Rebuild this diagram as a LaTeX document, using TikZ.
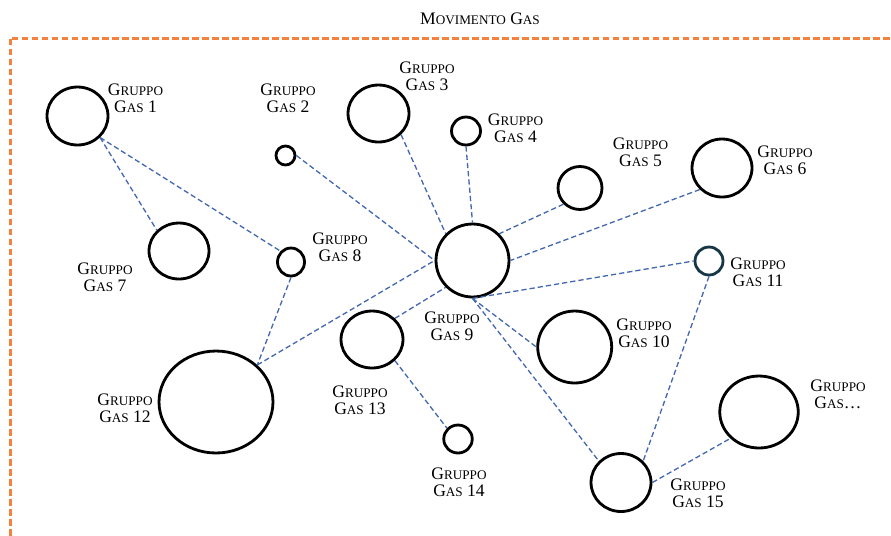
\documentclass[tikz,border=0pt]{standalone}
\usepackage{fontspec}
\setmainfont{Liberation Serif}
\usetikzlibrary{shapes.geometric}
\definecolor{linkblue}{RGB}{68,104,176}
\definecolor{frameorange}{RGB}{243,130,62}
\definecolor{darkteal}{RGB}{23,55,70}
% fake small caps: first letter full size, rest smaller
\newcommand{\fsc}[2]{#1{\fontsize{7.5}{9}\selectfont #2}}
\newcommand{\gruppo}[1]{\fsc{G}{RUPPO}\\\fsc{G}{AS}~#1}
\tikzset{
  % cerchio di un gruppo
  gas/.style={ellipse, draw, line width=1.6pt, inner sep=0pt},
  % etichetta
  lab/.style={align=center, inner sep=0pt, font=\fontsize{10}{9.8}\selectfont},
  % collegamento tratteggiato
  link/.style={draw=linkblue, line width=0.75pt, dash pattern=on 3pt off 1.7pt},
  % cornice arancione
  boxframe/.style={draw=frameorange, line width=2pt, dash pattern=on 3.8pt off 1.9pt},
}

\begin{document}
\begin{tikzpicture}[x=0.02cm, y=-0.02cm]
    \clip (0,0) rectangle (891,535);

    % Frame
    \draw[boxframe] (10.5,38.5) rectangle (905,560);
    \node[lab] (title) at (480,19) {\fsc{M}{OVIMENTO} \fsc{G}{AS}};

    % Groups
    \foreach \n/\x/\y/\w/\h in {1/77.5/116/1.22/1.16, 2/285.5/155.5/0.38/0.38,
        3/378.5/113.5/1.22/1.14, 4/466/131/0.58/0.56, 5/580/188/0.88/0.86,
        6/722/168/1.20/1.16, 7/179/251/1.20/1.12, 8/291/262/0.54/0.56,
        9/472.5/260.5/1.46/1.46, 10/574.7/347/1.48/1.44, 12/216/402/2.28/2.04,
        13/372/339.5/1.24/1.14, 14/458/439/0.57/0.56, 15/621/482.5/1.20/1.16} {
        \node[gas, minimum width=\w cm, minimum height=\h cm] (g\n) at (\x,\y) {};
    }
    \node[gas, draw=darkteal, minimum size=0.56cm] (g11) at (709,261) {};
    \node[gas, minimum width=1.57cm, minimum height=1.44cm] (gx) at (759,412) {};

    % Labels
    \foreach \n/\x/\y in {1/135.5/98, 2/288/98, 3/427/76, 4/515.5/128, 5/640.5/152,
        6/785/160, 7/105/277, 8/340/247, 9/452/326, 10/644/333, 11/758/272,
        12/125/408, 13/360/400, 14/459/482, 15/698/493} {
        \node[lab] (l\n) at (\x,\y) {\gruppo{\n}};
    }
    \node[lab] (lx) at (838,394) {\fsc{G}{RUPPO}\\\fsc{G}{AS}\ldots};

    % Links
    \foreach \a/\b in {g1.south east/g7.north west, g1.south east/g8.north west,
        g2.east/g9.west, g3.south east/g9.north west, g4.south/g9.north,
        g5.south west/g9.north east, g6.south west/g9.east,
        g8.south/g12.north east, g12.north east/g9.west,
        g13.north east/g9.south west, g13.south east/g14.north west,
        g9.south/g11.west, g9.south/g10.west, g9.south/g15.north west,
        g11.south/g15.north east, g15.east/gx.south west} {
        \draw[link] (\a) -- (\b);
    }
\end{tikzpicture}
\end{document}
